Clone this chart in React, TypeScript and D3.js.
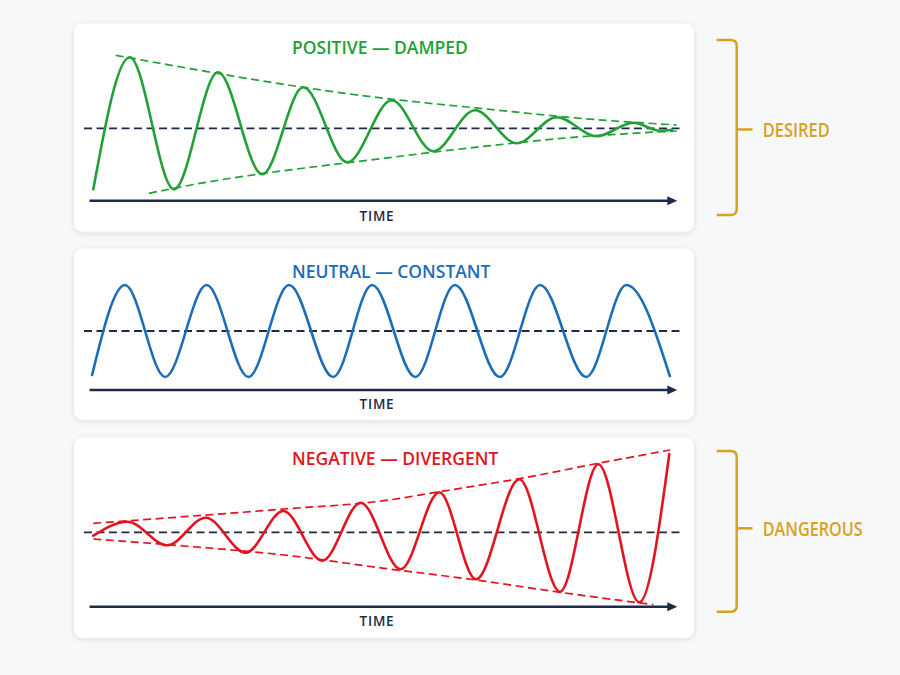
import React from "react";
import * as d3 from "d3";

// Displacement readings: time (s) and deviation from equilibrium
const dampedTime = [0.93, 4.57, 9.0, 13.4, 17.83, 21.93, 26.33, 30.77, 34.93, 39.1, 43.27, 47.27, 51.27, 54.93, 57.6, 58.8];
const dampedValue = [-61, 71, -61, 56, -46, 41, -34, 28, -23, 18, -15, 11, -8, 5.6, -2.4, -1.5];
const dampedUpperTime = [3.17, 30.0, 39.6, 49.6, 59.27];
const dampedUpperValue = [73, 30, 20, 10, 3.3];
const dampedLowerTime = [6.5, 10.0, 30.0, 39.6, 49.6, 59.27];
const dampedLowerValue = [-65, -58, -30, -18.5, -8.5, -2.7];

const constantTime = [0.81, 4.1, 8.12, 12.26, 16.44, 20.5, 24.92, 28.81, 33.15, 37.09, 41.59, 45.61, 50.23, 54.24, 58.58];
const constantValue = [-44, 46, -46, 46, -46, 46, -46, 46, -46, 46, -46, 46, -46, 46, -45];

const divergentTime = [0.93, 4.33, 8.33, 12.17, 16.17, 19.93, 23.83, 27.67, 31.67, 35.53, 39.2, 43.53, 47.6, 51.43, 55.53, 58.53];
const divergentValue = [-3.4, 10.6, -13, 14.6, -20.4, 21.3, -28.4, 29.6, -37, 40, -47, 53, -59.4, 68, -70, 78.3];
const divergentUpperTime = [0.93, 10, 20, 30, 35.53, 43.53, 51.43, 58.6];
const divergentUpperValue = [9, 15.6, 23.3, 31.6, 40.6, 53.6, 69, 82.3];
const divergentLowerTime = [0.93, 10, 20, 30, 39.2, 47.6, 56.93];
const divergentLowerValue = [-6.7, -13.7, -22.7, -36, -47.7, -60, -72.4];

const panelTitles = ["POSITIVE — DAMPED", "NEUTRAL — CONSTANT", "NEGATIVE — DIVERGENT"];
const axisLabel = "TIME";
const groupLabels = ["DESIRED", "DANGEROUS"];

const NAVY = "#1c2a4b";
const GOLD = "#d9a11e";
const FONT = "'Open Sans', 'Noto Sans', sans-serif";

type Pt = [number, number];
const zip = (t: number[], v: number[]): Pt[] => t.map((d, i) => [d, v[i]]);

const x = d3.scaleLinear().domain([0, 60]).range([84, 684]);

interface PanelProps {
  top: number;
  height: number;
  mid: number;
  axisY: number;
  titleY: number;
  timeY: number;
  title: string;
  color: string;
  series: Pt[];
  envelopes: Pt[][];
}

const Panel: React.FC<PanelProps> = ({ top, height, mid, axisY, titleY, timeY, title, color, series, envelopes }) => {
  const y = d3.scaleLinear().domain([-100, 100]).range([mid + 100, mid - 100]);
  const line = d3
    .line<Pt>()
    .x((d) => x(d[0]))
    .y((d) => y(d[1]))
    .curve(d3.curveMonotoneX);

  const axisStart = x(0.55);
  const axisEnd = x(59.33);

  return (
    <g>
      <rect x={73.5} y={top} width={621} height={height} rx={9} fill="#fff" stroke="#eceef1" strokeWidth={0.8} filter="url(#cardShadow)" />
      <text x={292} y={titleY} fill={color} fontFamily={FONT} fontWeight={600} fontSize={17.5}>
        {title}
      </text>
      {envelopes.map((env, i) => (
        <path key={i} d={line(env) || ""} fill="none" stroke={color} strokeWidth={1.7} strokeDasharray="8 4.5" />
      ))}
      <line x1={x(0)} x2={x(60)} y1={y(0)} y2={y(0)} stroke={NAVY} strokeWidth={1.8} strokeDasharray="8 4.5" />
      <path d={line(series) || ""} fill="none" stroke={color} strokeWidth={2.6} strokeLinecap="round" />
      <line x1={axisStart} x2={axisEnd - 6} y1={axisY} y2={axisY} stroke={NAVY} strokeWidth={2.6} />
      <path d={`M${axisEnd},${axisY} L${axisEnd - 10},${axisY - 4.5} L${axisEnd - 10},${axisY + 4.5} Z`} fill={NAVY} />
      <text x={377} y={timeY} textAnchor="middle" fill={NAVY} fontFamily={FONT} fontWeight={600} fontSize={13.5} letterSpacing={0.8}>
        {axisLabel}
      </text>
    </g>
  );
};

const Bracket: React.FC<{ top: number; bottom: number; tick: number; label: string; width: number }> = ({ top, bottom, tick, label, width }) => {
  const bx = 736.7;
  const r = 6;
  const d = `M716.7,${top} H${bx - r} Q${bx},${top} ${bx},${top + r} V${bottom - r} Q${bx},${bottom} ${bx - r},${bottom} H716.7`;
  return (
    <g>
      <path d={d} fill="none" stroke={GOLD} strokeWidth={2.5} />
      <line x1={bx} x2={752.5} y1={tick} y2={tick} stroke={GOLD} strokeWidth={2.5} />
      <text
        x={762.7}
        y={tick + 7.5}
        fill={GOLD}
        fontFamily={FONT}
        fontWeight={600}
        fontSize={20.5}
        textLength={width}
        lengthAdjust="spacingAndGlyphs"
      >
        {label}
      </text>
    </g>
  );
};

export default function App() {
  return (
    <div style={{ position: "absolute", left: 0, top: 0 }}>
      <svg width={900} height={675} style={{ display: "block" }}>
        <defs>
          <filter id="cardShadow" x="-5%" y="-10%" width="110%" height="125%">
            <feDropShadow dx={0} dy={1.5} stdDeviation={2.5} floodColor="#000" floodOpacity={0.1} />
          </filter>
        </defs>
        <rect width={900} height={675} fill="#f7f8f9" />

        <Panel
          top={23}
          height={209}
          mid={128.3}
          axisY={200.7}
          titleY={53.5}
          timeY={220.7}
          title={panelTitles[0]}
          color="#21a038"
          series={zip(dampedTime, dampedValue)}
          envelopes={[zip(dampedUpperTime, dampedUpperValue), zip(dampedLowerTime, dampedLowerValue)]}
        />
        <Panel
          top={248}
          height={172}
          mid={331}
          axisY={390}
          titleY={278.3}
          timeY={408.5}
          title={panelTitles[1]}
          color="#1b6db8"
          series={zip(constantTime, constantValue)}
          envelopes={[]}
        />
        <Panel
          top={437}
          height={201}
          mid={532.3}
          axisY={606.7}
          titleY={465}
          timeY={625.7}
          title={panelTitles[2]}
          color="#e2141d"
          series={zip(divergentTime, divergentValue)}
          envelopes={[zip(divergentUpperTime, divergentUpperValue), zip(divergentLowerTime, divergentLowerValue)]}
        />

        <Bracket top={40} bottom={215} tick={129.5} label={groupLabels[0]} width={67} />
        <Bracket top={451} bottom={611.7} tick={528.3} label={groupLabels[1]} width={100} />
      </svg>
    </div>
  );
}
